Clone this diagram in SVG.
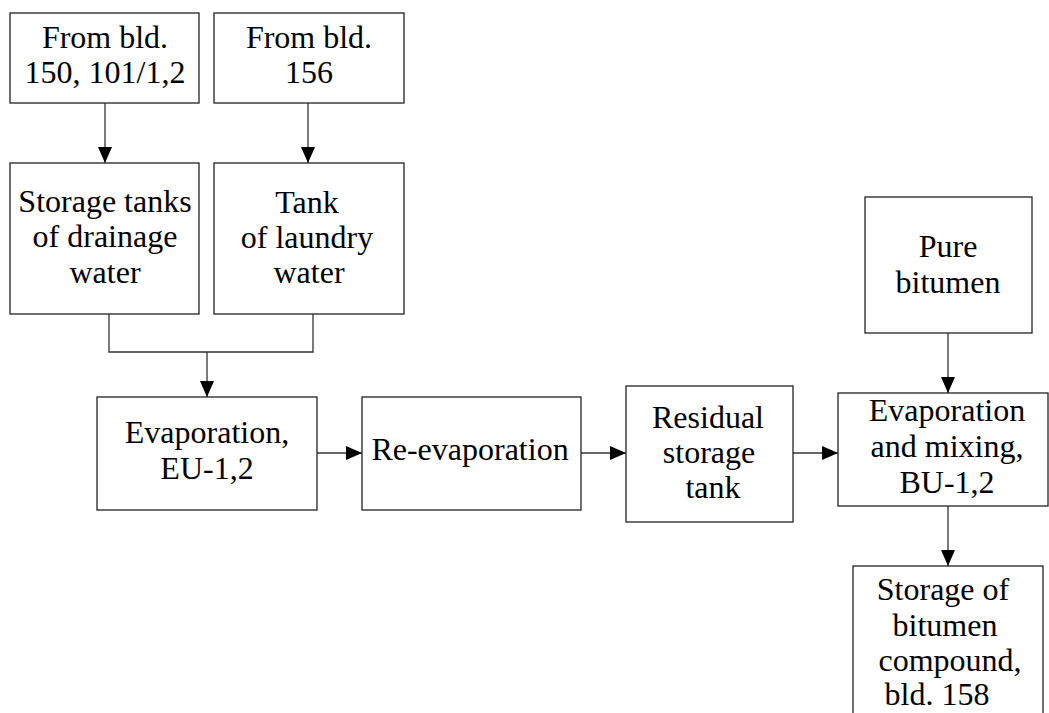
<svg xmlns="http://www.w3.org/2000/svg" width="1049" height="713" viewBox="0 0 1049 713">
<defs>
<marker id="arr" markerUnits="userSpaceOnUse" markerWidth="17" markerHeight="14" refX="16" refY="7" orient="auto">
<path d="M0,0 L16,7 L0,14 z" fill="#000"/>
</marker>
<style>
.box{fill:#fff;stroke:#222;stroke-width:1.3}
.t{font-size:32px;fill:#000;text-anchor:middle}
.c{fill:none;stroke:#333;stroke-width:1.3}
.a{fill:none;stroke:#333;stroke-width:1.3;marker-end:url(#arr)}
</style>
</defs>
<rect width="1049" height="713" fill="#fff"/>
<g id="connectors">
<line class="a" x1="105" y1="103" x2="105" y2="163"/>
<line class="a" x1="308" y1="103" x2="308" y2="163"/>
<polyline class="c" points="109,314 109,352 313,352 313,314"/>
<line class="a" x1="207" y1="352" x2="207" y2="397"/>
<line class="a" x1="317" y1="453" x2="362" y2="453"/>
<line class="a" x1="581" y1="453" x2="626" y2="453"/>
<line class="a" x1="793" y1="453" x2="838" y2="453"/>
<line class="a" x1="948" y1="333" x2="948" y2="393"/>
<line class="a" x1="948" y1="506" x2="948" y2="566"/>
</g>
<g id="nodes" font-family="Liberation Serif, serif">
<g id="from150">
<rect class="box" x="10" y="13" width="189" height="90"/>
<text class="t" x="105" y="48">From bld.</text>
<text class="t" x="105" y="83">150, 101/1,2</text>
</g>
<g id="from156">
<rect class="box" x="214" y="13" width="190" height="90"/>
<text class="t" x="309" y="48">From bld.</text>
<text class="t" x="309" y="83">156</text>
</g>
<g id="drainage">
<rect class="box" x="10" y="163" width="189" height="151"/>
<text class="t" x="105" y="212">Storage tanks</text>
<text class="t" x="105" y="247">of drainage</text>
<text class="t" x="105" y="283">water</text>
</g>
<g id="laundry">
<rect class="box" x="214" y="163" width="190" height="151"/>
<text class="t" x="307" y="213">Tank</text>
<text class="t" x="307" y="248">of laundry</text>
<text class="t" x="309" y="283">water</text>
</g>
<g id="evaporation">
<rect class="box" x="97" y="397" width="220" height="113"/>
<text class="t" x="207" y="443">Evaporation,</text>
<text class="t" x="207" y="479">EU-1,2</text>
</g>
<g id="reevaporation">
<rect class="box" x="362" y="397" width="219" height="113"/>
<text class="t" x="470" y="460">Re-evaporation</text>
</g>
<g id="residual">
<rect class="box" x="626" y="386" width="167" height="136"/>
<text class="t" x="708" y="428">Residual</text>
<text class="t" x="709" y="463">storage</text>
<text class="t" x="713" y="498">tank</text>
</g>
<g id="pure">
<rect class="box" x="865" y="197" width="167" height="136"/>
<text class="t" x="948" y="257">Pure</text>
<text class="t" x="948" y="293">bitumen</text>
</g>
<g id="mixing">
<rect class="box" x="838" y="393" width="210" height="113"/>
<text class="t" x="947" y="421">Evaporation</text>
<text class="t" x="947" y="457">and mixing,</text>
<text class="t" x="947" y="493">BU-1,2</text>
</g>
<g id="storage">
<rect class="box" x="853" y="566" width="190" height="160"/>
<text class="t" x="943" y="600">Storage of</text>
<text class="t" x="945" y="636">bitumen</text>
<text class="t" x="950" y="671">compound,</text>
<text class="t" x="937" y="705">bld. 158</text>
</g>
</g>
</svg>
